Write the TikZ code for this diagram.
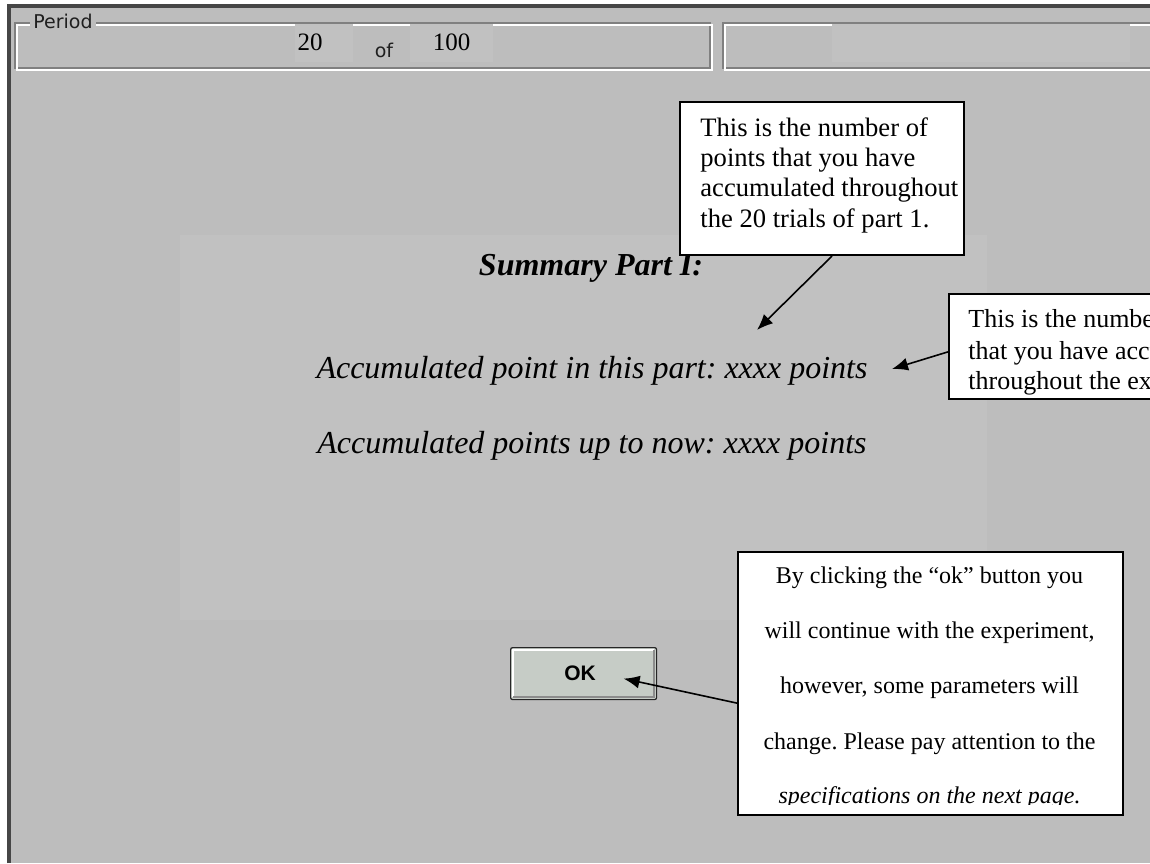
\documentclass[tikz,border=0pt]{standalone}
\usepackage{fontspec}
\setmainfont{Liberation Serif}
\newfontfamily\uisans{DejaVu Sans}
\newfontfamily\okfont{Liberation Sans}
\usetikzlibrary{arrows.meta,calc}
\frenchspacing
\definecolor{winbg}{RGB}{189,189,189}
\definecolor{panelbg}{RGB}{193,193,193}
\definecolor{shadebg}{RGB}{193,193,193}
\definecolor{etchdark}{RGB}{128,128,128}
\definecolor{winedge}{RGB}{70,70,70}
\definecolor{okbg}{RGB}{198,204,198}
\tikzset{
  callout/.style={draw=black, fill=white, line width=1pt, inner sep=0pt, anchor=north west},
  pointer/.style={-{Latex[length=8pt,width=6.5pt]}, line width=0.8pt, black},
  calltext/.style={font=\fontsize{13.3pt}{15pt}\selectfont, inner sep=0pt, anchor=base west},
  noticetext/.style={font=\fontsize{12pt}{14pt}\selectfont, inner sep=0pt, anchor=base},
  maintext/.style={font=\fontsize{16pt}{18pt}\selectfont\itshape, inner sep=0pt, anchor=base},
  uilabel/.style={font=\uisans\fontsize{9.5pt}{10pt}\selectfont, text=black!88, inner sep=0pt},
  numtext/.style={font=\fontsize{12.5pt}{14pt}\selectfont, inner sep=0pt, anchor=base},
  okbtn/.style={draw=black!85, fill=okbg, line width=0.6pt, rounded corners=1pt, inner sep=0pt, anchor=north west,
                minimum width=73pt, minimum height=26pt},
  etchhi/.style={white, line width=0.6pt},
  etchlo/.style={etchdark, line width=0.6pt}
}
\begin{document}
\begin{tikzpicture}[x=0.5pt,y=-0.5pt]
\useasboundingbox (0,0) rectangle (1150,863);
\begin{scope}
\clip (0,0) rectangle (1150,863);
% window
\fill[white] (0,0) rectangle (1150,863);
\fill[winbg] (8,5) rectangle (1150,863);
\draw[winedge, line width=1.6pt] (9,863) -- (9,6) -- (1150,6);
% group box "Period"
\draw[etchlo] (15,23) rectangle (710,68);
\draw[etchhi] (17,25) rectangle (712,70);
% second group box
\draw[etchlo] (723,23) rectangle (1170,68);
\draw[etchhi] (725,25) rectangle (1172,70);
% shaded fields
\fill[shadebg] (295,24) rectangle (353,62);
\fill[shadebg] (410,24) rectangle (493,62);
\fill[shadebg] (832,24) rectangle (1130,62);
\node[uilabel, fill=winbg, inner xsep=1.5pt, anchor=base west] (period) at (30,28) {Period};
\node[numtext] (cur) at (310,50) {20};
\node[uilabel, anchor=base] (of) at (384,57) {of};
\node[numtext] (tot) at (451.5,50) {100};
% inner panel
\fill[panelbg] (180,235) rectangle (987,620);
% summary texts
\node[maintext, font=\fontsize{16pt}{18pt}\selectfont\bfseries\itshape] (sum) at (591,275) {Summary Part I:};
\node[maintext] (line1) at (592,378) {Accumulated point in this part: xxxx points};
\node[maintext] (line2) at (592,453) {Accumulated points up to now: xxxx points};
% OK button
\node[okbtn] (ok) at (510,647) {};
\draw[etchhi] ($(ok.south west)+(3,-3)$) -- ($(ok.north west)+(3,3)$) -- ($(ok.north east)+(-3,3)$);
\draw[black!45, line width=0.8pt] ($(ok.north east)+(-3,3)$) -- ($(ok.south east)+(-3,-3)$) -- ($(ok.south west)+(3,-3)$);
\node[font=\okfont\bfseries\fontsize{10.5pt}{12pt}\selectfont, inner sep=0pt, anchor=base] (oktext) at (580,680) {OK};
% callout 1
\node[callout, minimum width=142pt, minimum height=76.5pt] (c1) at (679,101) {};
\node[calltext] (c1a) at (700,136) {This is the number of};
\node[calltext] (c1b) at (700,166) {points that you have};
\node[calltext] (c1c) at (700,196) {accumulated throughout};
\node[calltext] (c1d) at (700,227) {the 20 trials of part 1.};
% callout 2 (cut off by the right edge, as in the reference)
\node[callout, minimum width=115pt, minimum height=52.5pt] (c2) at (948,293) {};
\node[calltext, font=\fontsize{13pt}{15pt}\selectfont] (c2a) at (968,327) {This is the number of};
\node[calltext, font=\fontsize{13pt}{15pt}\selectfont] (c2b) at (968,359) {that you have accumulated};
\node[calltext, font=\fontsize{13pt}{15pt}\selectfont] (c2c) at (968,389) {throughout the experiment.};
% callout 3
\node[callout, minimum width=192.5pt, minimum height=131.5pt] (c3) at (737,551) {};
\begin{scope}
\clip (c3.north west) rectangle ($(c3.south east)+(0,-12)$);
\node[noticetext] (c3a) at (929.5,583) {By clicking the ``ok'' button you};
\node[noticetext] (c3b) at (929.5,638) {will continue with the experiment,};
\node[noticetext] (c3c) at (929.5,693) {however, some parameters will};
\node[noticetext] (c3d) at (929.5,749) {change. Please pay attention to the};
\node[noticetext, font=\fontsize{12pt}{14pt}\selectfont\itshape] (c3e) at (929.5,803) {specifications on the next page.};
\end{scope}
% pointers
\coordinate (t1) at (757,330);
\coordinate (t2) at (892,369);
\coordinate (t3) at ($(ok.center)+(40,5)$);
\draw[pointer] ($(c1.south west)+(153,0)$) -- (t1);
\draw[pointer] ($(c2.north west)!0.55!(c2.south west)$) -- (t2);
\draw[pointer] ($(c3.north west)!0.574!(c3.south west)$) -- (t3);
\end{scope}
\end{tikzpicture}
\end{document}
